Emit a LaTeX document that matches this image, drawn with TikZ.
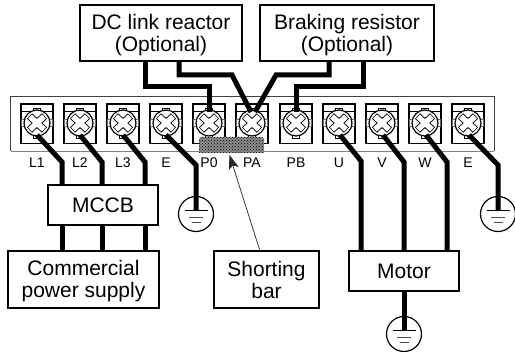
\documentclass[tikz,border=0pt]{standalone}
\usepackage{fontspec}
\setmainfont{Liberation Sans}
\usetikzlibrary{patterns,arrows.meta}
\tikzset{
  box/.style={draw=black,line width=1.2pt,fill=white,align=center,font=\fontsize{21}{22}\selectfont,inner sep=0pt},
  wire/.style={line width=5pt,black,line join=miter},
  lbl/.style={font=\fontsize{14}{14}\selectfont,inner sep=0pt},
  thin line/.style={line width=0.7pt,black!85}
}
\newcommand{\lowered}{\rule{0pt}{18.5pt}}
\newcommand{\terminal}[3]{% name, x, label
  \draw[line width=1.4pt,fill=white] (#2-16,103.5) rectangle (#2+16,143.5);
  \draw[line width=0.9pt] (#2-16,111) -- (#2+16,111);
  \draw[line width=1.8pt] (#2-16,104) -- (#2+16,104);
  \draw[line width=0.5pt,fill=white] (#2-3.5,108) rectangle (#2+3.5,112);
  \draw[line width=0.5pt,fill=white] (#2-3.5,134) rectangle (#2+3.5,138);
  \draw[line width=0.5pt,black!60,fill=white] (#2-15.5,119.5) rectangle (#2+15.5,126.5);
  \node[circle,draw=black,line width=1.2pt,fill=white,minimum size=26pt,inner sep=0pt] (s#1) at (#2,123) {};
  \draw[line width=7.4pt,black] (#2-7.5,116) -- (#2+7.5,130) (#2-7.5,130) -- (#2+7.5,116);
  \draw[line width=5.6pt,white] (#2-7,116.5) -- (#2+7,129.5) (#2-7,129.5) -- (#2+7,116.5);
  \node[lbl] (t#1) at (#2,163) {#3};
}
\newcommand{\ground}[3]{% name, x, y
  \node[circle,draw=black,line width=1.2pt,fill=white,minimum size=35pt,inner sep=0pt] (#1) at (#2,#3) {};
  \draw[line width=1.2pt] (#2-11.5,#3-3.5) -- (#2+11.5,#3-3.5);
  \draw[line width=0.8pt,black!70] (#2-7,#3+3) -- (#2+7,#3+3);
  \draw[line width=0.8pt,black!70] (#2-4.5,#3+8) -- (#2+4.5,#3+8);
}
\begin{document}
\begin{tikzpicture}[x=1pt,y=-1pt]
\useasboundingbox (0,0) rectangle (515,352);
% terminal block
\draw[line width=0.9pt,black!75] (10.5,151) -- (10.5,96) -- (494,96) -- (494,151);
\draw[line width=0.6pt,black!50] (10.5,151) -- (494,151);
\terminal{La}{37}{L1}
\terminal{Lb}{80}{L2}
\terminal{Lc}{123}{L3}
\terminal{Ea}{166}{E}
\terminal{Pz}{209}{P0}
\terminal{Pa}{252}{PA}
\terminal{Pb}{296}{PB}
\terminal{U}{339}{U}
\terminal{V}{382}{V}
\terminal{W}{425}{W}
\terminal{Eb}{468}{E}
% boxes
\node[box,minimum width=162pt,minimum height=56pt] (dc) at (161,33) {\lowered DC link reactor\\(Optional)};
\node[box,minimum width=174pt,minimum height=56pt] (br) at (347,33) {\lowered Braking resistor\\(Optional)};
\node[box,minimum width=110pt,minimum height=40pt] (mccb) at (103,205) {MCCB};
\node[box,minimum width=151pt,minimum height=57pt] (comm) at (83.5,279.5) {\lowered Commercial\\power supply};
\node[box,minimum width=105pt,minimum height=57pt] (sbar) at (266.5,279.5) {Shorting\\bar};
\node[box,minimum width=110pt,minimum height=40pt] (motor) at (404,271) {Motor};
% grounds
\ground{ga}{196}{214}
\ground{gb}{498}{214}
\ground{gc}{404}{334}
% bends
\coordinate (a1) at (62,162); \coordinate (a2) at (102,162); \coordinate (a3) at (145,162);
\coordinate (a4) at (196,165); \coordinate (a5) at (361,161); \coordinate (a6) at (404,162);
\coordinate (a7) at (447,162); \coordinate (a8) at (498,165);
\coordinate (ea) at (196,210.5); \coordinate (eb) at (498,210.5); \coordinate (ec) at (404,330.5);
\coordinate (f1) at (37,135); \coordinate (f2) at (80,135); \coordinate (f3) at (123,135);
\coordinate (f4) at (166,135); \coordinate (f5) at (340,135); \coordinate (f6) at (383,135);
\coordinate (f7) at (426,135); \coordinate (f8) at (469,135);
% lower wires
\draw[wire] (f1) -- (a1) -- (mccb.north -| a1);
\draw[wire] (f2) -- (a2) -- (mccb.north -| a2);
\draw[wire] (f3) -- (a3) -- (mccb.north -| a3);
\draw[wire] (mccb.south -| a1) -- (comm.north -| a1);
\draw[wire] (mccb.south -| a2) -- (comm.north -| a2);
\draw[wire] (mccb.south -| a3) -- (comm.north -| a3);
\draw[wire] (f4) -- (a4) -- (ea);
\draw[wire] (f5) -- (a5) -- (motor.north -| a5);
\draw[wire] (f6) -- (a6) -- (motor.north -| a6);
\draw[wire] (f7) -- (a7) -- (motor.north -| a7);
\draw[wire] (f8) -- (a8) -- (eb);
\draw[wire] (motor.south) -- (ec);
% upper wires
\coordinate (u1) at (145,87); \coordinate (u2) at (209.5,87); \coordinate (u3) at (179,75);
\coordinate (u4) at (232,75); \coordinate (u5) at (329,75); \coordinate (u6) at (276,75);
\coordinate (u7) at (363,86.5); \coordinate (u8) at (296,86.5);
\coordinate (n1) at (209.5,112); \coordinate (n2) at (251,112); \coordinate (n3) at (255,112); \coordinate (n4) at (296,112);
\draw[wire] (dc.south -| u1) -- (u1) -- (u2) -- (n1);
\draw[wire] (dc.south -| u3) -- (u3) -- (u4) -- (n2);
\draw[wire] (br.south -| u5) -- (u5) -- (u6) -- (n3);
\draw[wire] (br.south -| u7) -- (u7) -- (u8) -- (n4);
% shorting bar
\fill[black!45] (199,139) -- (201,137) -- (262,137) -- (264,139) -- (264,153) -- (199,153) -- cycle;
\fill[pattern=crosshatch dots,pattern color=black] (199,139) -- (201,137) -- (262,137) -- (264,139) -- (264,153) -- (199,153) -- cycle;
% pointer
\coordinate (tip) at (229.5,155);
\coordinate (ptr) at (260,251);
\draw[thin line,-{Stealth[length=14pt,width=10pt,inset=3pt]}] (ptr) -- (tip);
\end{tikzpicture}
\end{document}
